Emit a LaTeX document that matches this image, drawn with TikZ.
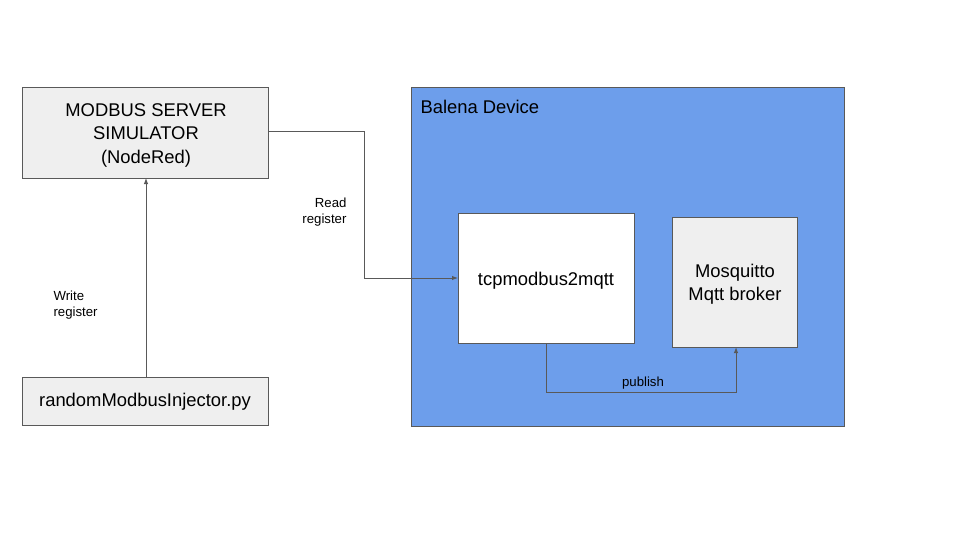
\documentclass[tikz,border=0pt]{standalone}
\usepackage{fontspec}
\setmainfont{Liberation Sans}
\usetikzlibrary{arrows.meta}
\definecolor{edgegray}{HTML}{595959}
\definecolor{boxgray}{HTML}{EFEFEF}
\definecolor{balena}{HTML}{6D9EEB}
\tikzset{
  box/.style={draw=edgegray, line width=1pt, inner sep=0pt, anchor=north west},
  bigtxt/.style={font=\fontsize{18.4}{23.5}\selectfont, align=center, text=black},
  smalltxt/.style={font=\fontsize{13.2}{16.5}\selectfont, text=black},
  conn/.style={draw=edgegray, line width=1pt, -{Latex[length=6pt,width=4.5pt]}},
}
\begin{document}
\begin{tikzpicture}[x=1pt,y=-1pt]
\useasboundingbox (0,0) rectangle (960,540);
% Balena device
\node[box, fill=balena, minimum width=433pt, minimum height=339pt] (bal) at (411,87) {};
\node[bigtxt, anchor=west] (baltxt) at (417,107) {Balena Device};
% Modbus server
\node[box, fill=boxgray, minimum width=246pt, minimum height=91pt] (srv) at (22,87) {};
\node[bigtxt] (srvtxt) at (146,135) {MODBUS SERVER\\SIMULATOR\\(NodeRed)};
% injector
\node[box, fill=boxgray, minimum width=246pt, minimum height=48pt] (inj) at (22,377) {};
\node[bigtxt] (injtxt) at (145,402) {randomModbusInjector.py};
% tcpmodbus2mqtt
\node[box, fill=white, minimum width=176pt, minimum height=130pt] (tcp) at (458,213) {};
\node[bigtxt] (tcptxt) at (546,281) {tcpmodbus2mqtt};
% mosquitto
\node[box, fill=boxgray, minimum width=125pt, minimum height=130pt] (mos) at (672,217) {};
\node[bigtxt] (mostxt) at (735,284) {Mosquitto\\Mqtt broker};
% connectors
\coordinate (r1) at (364,132);
\coordinate (r2) at (364,278);
\coordinate (srvR) at (268,132);
\coordinate (tcpL) at (458,278);
\draw[conn] (srvR) -- (r1) -- (r2) -- (tcpL);
\coordinate (injT) at (146,377);
\coordinate (srvB) at (146,178);
\draw[conn] (injT) -- (srvB);
\coordinate (tcpB) at (546,343);
\coordinate (p1) at (546,392);
\coordinate (p2) at (736,392);
\coordinate (mosB) at (736,347);
\draw[conn] (tcpB) -- (p1) -- (p2) -- (mosB);
% labels
\node[smalltxt, align=right, anchor=east] (readlbl) at (350,212) {Read\\register};
\node[smalltxt, align=left, anchor=west] (writelbl) at (50,305) {Write\\register};
\node[smalltxt] (publbl) at (643,383) {publish};
\end{tikzpicture}
\end{document}
